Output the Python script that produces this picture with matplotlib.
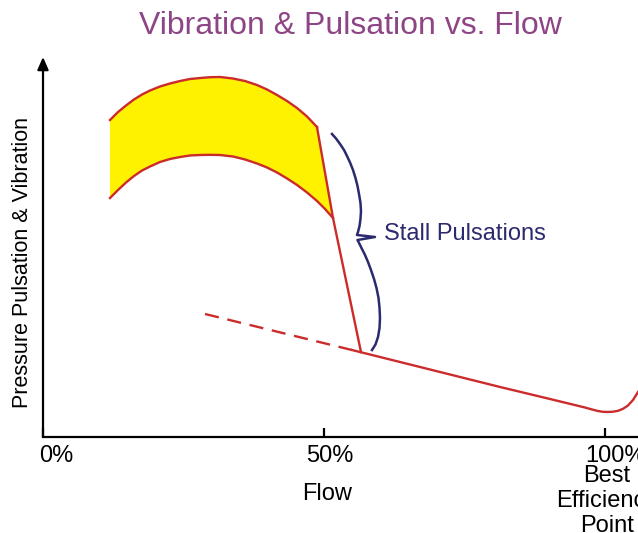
import matplotlib
matplotlib.use("Agg")
import matplotlib.pyplot as plt
from matplotlib.transforms import ScaledTranslation

plt.rcParams['font.family'] = ['Liberation Sans', 'DejaVu Sans']

# flow in % of BEP, level in % of axis height
band_top_x = [11.92, 13.35, 14.77, 16.19, 17.62, 19.04, 20.82, 22.60, 24.38, 26.16, 27.94,
              29.72, 31.49, 33.81, 35.94, 38.08, 39.86, 41.64, 43.42, 45.20, 46.98, 48.75]
band_top_y = [83.42, 85.53, 87.24, 88.82, 90.13, 91.18, 92.24, 93.03, 93.68, 94.21, 94.47,
              94.68, 94.74, 94.34, 93.68, 92.63, 91.45, 90.00, 88.42, 86.58, 84.34, 81.58]

band_low_x = [11.92, 13.35, 14.77, 16.19, 17.62, 19.04, 20.82, 22.60, 24.38, 26.16, 27.94, 29.72,
              31.49, 33.81, 35.94, 38.08, 39.86, 41.64, 43.42, 45.20, 46.98, 48.75, 50.18, 51.60]
band_low_y = [62.89, 65.00, 66.97, 68.68, 70.13, 71.18, 72.37, 73.16, 73.68, 74.08, 74.21, 74.26,
              74.21, 73.82, 73.03, 71.97, 70.92, 69.61, 68.03, 66.32, 64.34, 62.11, 60.00, 57.63]

stall_x = [48.75, 51.60, 56.58]
stall_y = [81.58, 57.63, 22.37]

dashed_x = [28.83, 54.98]
dashed_y = [32.37, 22.89]

normal_x = [54.98, 63.52, 72.42, 81.32, 90.21, 96.44, 97.69, 98.75, 99.64, 100.53, 101.42,
            102.31, 103.20, 104.09, 104.98, 105.87]
normal_y = [22.89, 19.74, 16.45, 13.16, 10.00, 7.76, 7.24, 6.84, 6.63, 6.58, 6.66,
            6.89, 7.42, 8.29, 9.74, 11.84]

brace_x = [51.42, 52.14, 52.85, 53.56, 54.09, 54.63, 55.16, 55.60, 55.96, 56.23, 56.49, 56.58,
           56.49, 56.32, 56.05, 55.87, 59.07, 55.96, 56.32, 56.76, 57.30, 57.83, 58.36, 58.90,
           59.34, 59.70, 59.88, 59.96, 59.88, 59.61, 59.16, 58.54]
brace_y = [79.74, 78.55, 77.11, 75.53, 73.95, 72.24, 70.26, 68.16, 66.05, 63.95, 61.58, 59.47,
           57.37, 55.53, 53.95, 53.16, 52.63, 51.84, 50.79, 49.47, 47.89, 46.05, 43.95, 41.58,
           39.21, 36.58, 33.95, 31.32, 28.68, 26.32, 24.34, 22.89]

tick_pos = [0, 50, 100]
tick_labels = ['0%', '50%', '100%']

RED = '#cc2b2b'
NAVY = '#2b2a6e'

fig = plt.figure(figsize=(6.38, 5.33), dpi=100)
ax = fig.add_axes([43 / 638, 96 / 533, 595 / 638, 380 / 533])
ax.set_xlim(0, 105.87)
ax.set_ylim(0, 100)

# yellow band between the two curves
poly_x = band_top_x + band_low_x[::-1]
poly_y = band_top_y + band_low_y[::-1]
ax.fill(poly_x, poly_y, color='#fff200', zorder=1, lw=0)

ax.plot(band_top_x, band_top_y, color=RED, lw=1.7, zorder=3, solid_joinstyle='round')
ax.plot(band_low_x, band_low_y, color=RED, lw=1.7, zorder=3, solid_joinstyle='round')
ax.plot(stall_x, stall_y, color=RED, lw=1.7, zorder=3)
ax.plot(dashed_x, dashed_y, color=RED, lw=1.7, dashes=(6, 3.7), zorder=3)
ax.plot(normal_x, normal_y, color=RED, lw=1.7, zorder=3, clip_on=False,
        solid_joinstyle='round')

ax.plot(brace_x, brace_y, color=NAVY, lw=1.8, zorder=3, solid_joinstyle='round')
ax.text(60.68, 53.42, 'Stall Pulsations', color=NAVY, fontsize=17, va='center', ha='left')

# axes: left one with arrow
for s in ['top', 'right', 'left']:
    ax.spines[s].set_visible(False)
ax.spines['bottom'].set_linewidth(1.6)
ax.annotate('', xy=(0, 1.0), xytext=(0, 0), xycoords='axes fraction',
            arrowprops=dict(arrowstyle='-|>,head_length=0.75,head_width=0.33',
                            color='black', lw=1.6, shrinkA=0, shrinkB=0))

ax.set_yticks([])
ax.set_xticks(tick_pos)
ax.set_xticklabels(tick_labels, fontsize=17)
ax.tick_params(axis='x', direction='in', length=6.5, width=1.6, pad=6)
offsets = [13, 6, 10]
for lab, dx in zip(ax.get_xticklabels(), offsets):
    lab.set_transform(lab.get_transform() + ScaledTranslation(dx / 100, 0, fig.dpi_scale_trans))

fig.text(327 / 638, 1 - 494 / 533, 'Flow', fontsize=17, ha='center', va='center')
fig.text(607 / 638, 1 - 501 / 533, 'Best\nEfficiency\nPoint', fontsize=17, ha='center',
         va='center', linespacing=1.15)
fig.text(23 / 638, 1 - 262 / 533, 'Pressure Pulsation & Vibration', fontsize=15.5,
         rotation=90, ha='center', va='center')
fig.text(350 / 638, 1 - 26 / 533, 'Vibration & Pulsation vs. Flow', fontsize=23,
         color='#8e4585', ha='center', va='center')

fig.savefig('out.png', dpi=100)
